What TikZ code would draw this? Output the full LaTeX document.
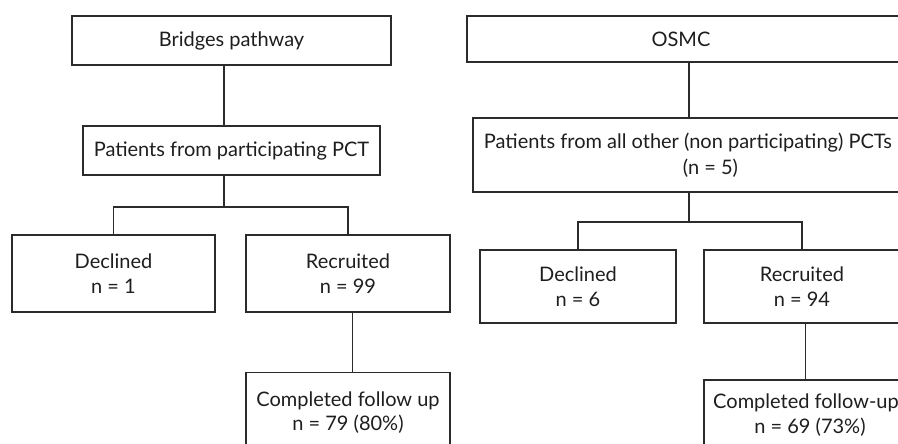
\documentclass[tikz,border=0pt]{standalone}
\usepackage{fontspec}
\setmainfont{Lato}
\definecolor{linec}{HTML}{2B2B2B}
\definecolor{txtc}{HTML}{1E1E1E}
\begin{document}
\begin{tikzpicture}[x=1pt,y=-1pt,
  box/.style={draw=linec, line width=1.2pt, inner sep=0pt, align=center,
    font=\fontsize{20}{24.5}\selectfont, text=txtc},
  lbl/.style={inner sep=0pt, font=\fontsize{20}{24.5}\selectfont, text=txtc},
  conn/.style={draw=linec, line width=1.2pt}]
\useasboundingbox (0,0) rectangle (898,444);
\clip (0,0) rectangle (898,444);
% ---------- left tree ----------
\node[box, minimum width=319pt, minimum height=49pt] (b1) at (231.5,40.5) {Bridges pathway};
\node[box, minimum width=297pt, minimum height=49pt] (p1) at (231.5,150.5) {Patients from participating PCT};
\node[box, minimum width=203pt, minimum height=77pt] (d1) at (113.5,273.5) {Declined\\n = 1};
\node[box, minimum width=204pt, minimum height=77pt] (r1) at (348,273.5) {Recruited\\n = 99};
\node[box, minimum width=204pt, minimum height=80pt] (c1) at (348,412.5) {Completed follow up\\n = 79 (80\%)};
\coordinate (j1) at (224,207);
\draw[conn] (b1.south -| j1) -- (p1.north -| j1);
\draw[conn] (p1.south -| j1) -- (j1);
\draw[conn] (d1.north) -- (d1.north |- j1) -- (r1.north |- j1) -- (r1.north);
\draw[conn] ([xshift=4.5pt]r1.south) -- ([xshift=4.5pt]r1.south |- c1.north);
% ---------- right tree ----------
\node[box, minimum width=434pt, minimum height=46pt] (o2) at (684,39) {};
\node[lbl] (o2t) at (681,39) {OSMC};
\node[box, minimum width=432pt, minimum height=74pt] (p2) at (689,155) {};
\node[lbl, anchor=base] (p2t) at (688,149) {Patients from all other (non participating) PCTs};
\node[lbl, anchor=base] (p2n) at (710.5,174) {(n = 5)};
\coordinate (j2) at (689,222);
\draw[conn] (o2.south -| j2) -- (p2.north -| j2);
\draw[conn] (p2.south -| j2) -- (j2);
\node[box, minimum width=196pt, minimum height=73pt] (d2) at (578,286.5) {Declined\\n = 6};
\node[box, minimum width=196pt, minimum height=73pt] (r2) at (802,286.5) {Recruited\\n = 94};
\node[box, minimum width=212pt, minimum height=72pt] (c2) at (810,416) {};
\node[lbl, anchor=base] (c2t) at (806,408.5) {Completed follow-up};
\node[lbl, anchor=base] (c2n) at (810,433) {n = 69 (73\%)};
\draw[conn] (d2.north) -- (d2.north |- j2) -- (r2.north |- j2) -- (r2.north);
\draw[conn] ([xshift=3.5pt]r2.south) -- ([xshift=3.5pt]r2.south |- c2.north);
\end{tikzpicture}
\end{document}
